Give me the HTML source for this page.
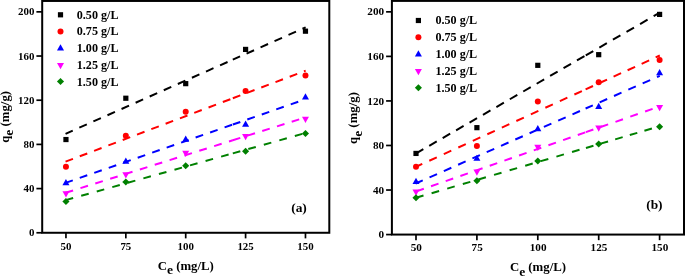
<!DOCTYPE html>
<html><head><meta charset="utf-8"><title>chart</title>
<style>
html,body{margin:0;padding:0;background:#fff;overflow:hidden}
svg{display:block;will-change:transform}
text{font-family:"Liberation Serif",serif;font-weight:bold;fill:#000}
.tk{}
.lg{font-size:12.1px}
.pl{font-size:13.4px}
.ax{font-size:12.8px}
.sub{font-size:13.5px}
</style></head><body>
<svg width="685" height="276" viewBox="0 0 685 276">
<rect width="685" height="276" fill="#fff"/>
<g>
<rect x="42.2" y="0.95" width="287.1" height="231.82000000000002" fill="none" stroke="#000" stroke-width="2.0"/>
<line x1="36.400000000000006" x2="42.2" y1="232.77" y2="232.77" stroke="#000" stroke-width="1.7"/>
<text x="34.400000000000006" y="236.37" text-anchor="end" class="tk" font-size="10.9">0</text>
<line x1="36.400000000000006" x2="42.2" y1="188.59" y2="188.59" stroke="#000" stroke-width="1.7"/>
<text x="34.400000000000006" y="192.19" text-anchor="end" class="tk" font-size="10.9">40</text>
<line x1="36.400000000000006" x2="42.2" y1="144.40" y2="144.40" stroke="#000" stroke-width="1.7"/>
<text x="34.400000000000006" y="148.00" text-anchor="end" class="tk" font-size="10.9">80</text>
<line x1="36.400000000000006" x2="42.2" y1="100.22" y2="100.22" stroke="#000" stroke-width="1.7"/>
<text x="34.400000000000006" y="103.82" text-anchor="end" class="tk" font-size="10.9">120</text>
<line x1="36.400000000000006" x2="42.2" y1="56.03" y2="56.03" stroke="#000" stroke-width="1.7"/>
<text x="34.400000000000006" y="59.63" text-anchor="end" class="tk" font-size="10.9">160</text>
<line x1="36.400000000000006" x2="42.2" y1="11.85" y2="11.85" stroke="#000" stroke-width="1.7"/>
<text x="34.400000000000006" y="15.45" text-anchor="end" class="tk" font-size="10.9">200</text>
<line x1="65.95" x2="65.95" y1="232.77" y2="238.37" stroke="#000" stroke-width="1.7"/>
<text x="65.95" y="249.67000000000002" text-anchor="middle" class="tk" font-size="10.9">50</text>
<line x1="125.83" x2="125.83" y1="232.77" y2="238.37" stroke="#000" stroke-width="1.7"/>
<text x="125.83" y="249.67000000000002" text-anchor="middle" class="tk" font-size="10.9">75</text>
<line x1="185.71" x2="185.71" y1="232.77" y2="238.37" stroke="#000" stroke-width="1.7"/>
<text x="185.71" y="249.67000000000002" text-anchor="middle" class="tk" font-size="10.9">100</text>
<line x1="245.59" x2="245.59" y1="232.77" y2="238.37" stroke="#000" stroke-width="1.7"/>
<text x="245.59" y="249.67000000000002" text-anchor="middle" class="tk" font-size="10.9">125</text>
<line x1="305.47" x2="305.47" y1="232.77" y2="238.37" stroke="#000" stroke-width="1.7"/>
<text x="305.47" y="249.67000000000002" text-anchor="middle" class="tk" font-size="10.9">150</text>
<path d="M65.55 133.81L72.74 130.62M79.32 127.70L86.82 124.38M93.39 121.46L100.89 118.14M107.47 115.22L114.97 111.90M121.54 108.98L129.04 105.66M135.62 102.74L143.12 99.41M149.69 96.50L157.19 93.17M163.77 90.26L171.27 86.93M177.84 84.02L185.34 80.69M191.91 77.78L199.41 74.45M205.99 71.54L213.49 68.21M220.06 65.30L227.56 61.97M232.80 59.65L240.07 56.42M246.56 53.55L254.06 50.22M260.54 47.35L268.04 44.02M274.52 41.15L282.02 37.82M288.50 34.95L296.00 31.62M302.48 28.75L305.67 27.34" stroke="#000" stroke-width="2.0" fill="none"/>
<path d="M65.55 161.67L72.96 158.87M79.77 156.28L87.27 153.44M94.08 150.86L101.58 148.02M108.39 145.43L115.89 142.59M122.70 140.01L130.20 137.17M137.01 134.59L144.51 131.74M151.31 129.16L158.81 126.32M165.62 123.74L173.12 120.90M179.93 118.32L187.43 115.47M194.24 112.89L201.74 110.05M208.55 107.47L216.05 104.62M222.85 102.05L230.35 99.20M232.81 98.27L240.31 95.43M247.04 92.88L254.54 90.03M261.26 87.48L268.76 84.64M275.48 82.09L282.98 79.25M289.71 76.70L297.21 73.86M303.93 71.31L305.67 70.65" stroke="#ff0000" stroke-width="2.0" fill="none"/>
<path d="M65.55 182.87L72.78 180.35M79.76 177.92L87.26 175.30M94.24 172.87L101.74 170.25M108.73 167.82L116.23 165.20M123.21 162.77L130.71 160.15M137.69 157.72L145.19 155.10M152.18 152.67L159.68 150.05M166.66 147.62L174.16 145.00M181.14 142.57L188.64 139.96M195.62 137.52L203.12 134.91M210.11 132.47L217.61 129.86M224.59 127.42L232.09 124.81M232.80 124.56L240.30 121.95M247.29 119.51L254.79 116.89M261.77 114.46L269.27 111.84M276.25 109.41L283.75 106.80M290.74 104.36L298.24 101.74" stroke="#0000ff" stroke-width="2.0" fill="none"/>
<path d="M65.59 192.79L73.09 190.43M80.45 188.12L87.95 185.76M95.30 183.46L102.80 181.10M110.16 178.79L117.66 176.43M125.01 174.12L132.51 171.77M139.87 169.46L147.37 167.10M154.72 164.79L162.22 162.44M169.58 160.13L177.08 157.77M184.43 155.46L191.93 153.11M199.28 150.80L206.78 148.44M214.14 146.13L221.64 143.78M229.00 141.47L232.75 140.29M232.80 140.27L240.29 137.92M247.52 135.65L255.02 133.29M262.25 131.02L269.75 128.67M276.98 126.40L284.48 124.04M291.70 121.77L299.20 119.42" stroke="#ff00ff" stroke-width="2.0" fill="none"/>
<path d="M65.65 200.16L73.15 198.06M81.20 195.80L88.70 193.71M96.75 191.45L104.25 189.35M112.29 187.10L119.79 185.00M127.84 182.75L135.34 180.65M143.39 178.40L150.89 176.30M158.93 174.05L166.43 171.95M174.48 169.69L181.98 167.59M190.03 165.34L197.53 163.24M205.57 160.99L213.07 158.89M221.12 156.64L228.62 154.54M232.80 153.37L240.30 151.27M248.31 149.03L255.81 146.93M263.81 144.69L271.31 142.59M279.32 140.34L286.82 138.25M294.83 136.00L302.33 133.90" stroke="#008000" stroke-width="2.0" fill="none"/>
<rect x="63.35" y="136.94" width="5.2" height="5.2" fill="#000"/>
<rect x="123.23" y="95.63" width="5.2" height="5.2" fill="#000"/>
<rect x="183.11" y="81.05" width="5.2" height="5.2" fill="#000"/>
<rect x="242.99" y="46.81" width="5.2" height="5.2" fill="#000"/>
<rect x="302.87" y="28.58" width="5.2" height="5.2" fill="#000"/>
<circle cx="65.95" cy="166.66" r="3.0" fill="#ff0000"/>
<circle cx="125.83" cy="135.72" r="3.0" fill="#ff0000"/>
<circle cx="185.71" cy="111.64" r="3.0" fill="#ff0000"/>
<circle cx="245.59" cy="90.94" r="3.0" fill="#ff0000"/>
<circle cx="305.47" cy="75.47" r="3.0" fill="#ff0000"/>
<path d="M65.95 179.08 L69.45 185.28 L62.45 185.28Z" fill="#0000ff"/>
<path d="M125.83 157.43 L129.33 163.63 L122.33 163.63Z" fill="#0000ff"/>
<path d="M185.71 135.58 L189.21 141.78 L182.21 141.78Z" fill="#0000ff"/>
<path d="M245.59 120.54 L249.09 126.74 L242.09 126.74Z" fill="#0000ff"/>
<path d="M305.47 93.36 L308.97 99.56 L301.97 99.56Z" fill="#0000ff"/>
<path d="M65.95 197.43 L69.45 191.23 L62.45 191.23Z" fill="#ff00ff"/>
<path d="M125.83 178.54 L129.33 172.34 L122.33 172.34Z" fill="#ff00ff"/>
<path d="M185.71 156.89 L189.21 150.69 L182.21 150.69Z" fill="#ff00ff"/>
<path d="M245.59 140.21 L249.09 134.01 L242.09 134.01Z" fill="#ff00ff"/>
<path d="M305.47 122.98 L308.97 116.78 L301.97 116.78Z" fill="#ff00ff"/>
<path d="M65.95 198.12 L69.50 201.62 L65.95 205.12 L62.40 201.62Z" fill="#008000"/>
<path d="M125.83 178.61 L129.38 182.11 L125.83 185.61 L122.28 182.11Z" fill="#008000"/>
<path d="M185.71 162.36 L189.26 165.86 L185.71 169.36 L182.16 165.86Z" fill="#008000"/>
<path d="M245.59 147.79 L249.14 151.29 L245.59 154.79 L242.04 151.29Z" fill="#008000"/>
<path d="M305.47 130.08 L309.02 133.58 L305.47 137.08 L301.92 133.58Z" fill="#008000"/>
<rect x="57.90" y="12.20" width="5.2" height="5.2" fill="#000"/>
<text x="76.8" y="18.80" class="lg">0.50 g/L</text>
<circle cx="60.50" cy="31.48" r="3.0" fill="#ff0000"/>
<text x="76.8" y="35.48" class="lg">0.75 g/L</text>
<path d="M60.50 44.36 L64.00 50.56 L57.00 50.56Z" fill="#0000ff"/>
<text x="76.8" y="52.16" class="lg">1.00 g/L</text>
<path d="M60.50 69.14 L64.00 62.94 L57.00 62.94Z" fill="#ff00ff"/>
<text x="76.8" y="68.84" class="lg">1.25 g/L</text>
<path d="M60.50 78.02 L64.05 81.52 L60.50 85.02 L56.95 81.52Z" fill="#008000"/>
<text x="76.8" y="85.52" class="lg">1.50 g/L</text>
<text x="291.2" y="212.25" class="pl">(a)</text>
<text x="185.75" y="269.9" text-anchor="middle" class="ax">C<tspan dy="4.3" class="sub">e</tspan><tspan dy="-4.3"> (mg/L)</tspan></text>
<text transform="translate(8.9 116.86) rotate(-90)" text-anchor="middle" class="ax">q<tspan dy="4.3" class="sub">e</tspan><tspan dy="-4.3"> (mg/g)</tspan></text>
</g>
<g>
<rect x="391.9" y="0.9" width="292.1" height="233.67" fill="none" stroke="#000" stroke-width="2.0"/>
<line x1="386.09999999999997" x2="391.9" y1="234.57" y2="234.57" stroke="#000" stroke-width="1.7"/>
<text x="384.09999999999997" y="238.17" text-anchor="end" class="tk" font-size="11.2">0</text>
<line x1="386.09999999999997" x2="391.9" y1="190.03" y2="190.03" stroke="#000" stroke-width="1.7"/>
<text x="384.09999999999997" y="193.63" text-anchor="end" class="tk" font-size="11.2">40</text>
<line x1="386.09999999999997" x2="391.9" y1="145.48" y2="145.48" stroke="#000" stroke-width="1.7"/>
<text x="384.09999999999997" y="149.08" text-anchor="end" class="tk" font-size="11.2">80</text>
<line x1="386.09999999999997" x2="391.9" y1="100.94" y2="100.94" stroke="#000" stroke-width="1.7"/>
<text x="384.09999999999997" y="104.54" text-anchor="end" class="tk" font-size="11.2">120</text>
<line x1="386.09999999999997" x2="391.9" y1="56.39" y2="56.39" stroke="#000" stroke-width="1.7"/>
<text x="384.09999999999997" y="59.99" text-anchor="end" class="tk" font-size="11.2">160</text>
<line x1="386.09999999999997" x2="391.9" y1="11.85" y2="11.85" stroke="#000" stroke-width="1.7"/>
<text x="384.09999999999997" y="15.45" text-anchor="end" class="tk" font-size="11.2">200</text>
<line x1="416.00" x2="416.00" y1="234.57" y2="240.17" stroke="#000" stroke-width="1.7"/>
<text x="416.30" y="250.97" text-anchor="middle" class="tk" font-size="11.2">50</text>
<line x1="476.90" x2="476.90" y1="234.57" y2="240.17" stroke="#000" stroke-width="1.7"/>
<text x="477.20" y="250.97" text-anchor="middle" class="tk" font-size="11.2">75</text>
<line x1="537.80" x2="537.80" y1="234.57" y2="240.17" stroke="#000" stroke-width="1.7"/>
<text x="538.10" y="250.97" text-anchor="middle" class="tk" font-size="11.2">100</text>
<line x1="598.70" x2="598.70" y1="234.57" y2="240.17" stroke="#000" stroke-width="1.7"/>
<text x="599.00" y="250.97" text-anchor="middle" class="tk" font-size="11.2">125</text>
<line x1="659.60" x2="659.60" y1="234.57" y2="240.17" stroke="#000" stroke-width="1.7"/>
<text x="659.90" y="250.97" text-anchor="middle" class="tk" font-size="11.2">150</text>
<path d="M415.82 153.55L423.32 149.22M429.24 145.80L436.74 141.46M442.67 138.04L450.17 133.71M456.10 130.28L463.60 125.95M469.53 122.53L477.03 118.19M482.96 114.77L490.46 110.44M496.39 107.01L503.89 102.68M509.82 99.25L517.32 94.92M523.24 91.50L530.74 87.17M536.67 83.75L544.17 79.41M550.10 75.99L557.60 71.66M563.53 68.23L571.03 63.90M576.96 60.47L584.46 56.14M585.77 55.39L593.27 51.05M599.35 47.54L606.85 43.21M612.92 39.70L620.42 35.37M626.50 31.86L634.00 27.53M640.07 24.02L647.57 19.69M653.65 16.18L659.80 12.63" stroke="#000" stroke-width="2.0" fill="none"/>
<path d="M415.60 166.99L422.26 163.95M429.28 160.75L436.78 157.32M443.79 154.12L451.29 150.70M458.30 147.50L465.80 144.08M472.81 140.88L480.31 137.45M487.32 134.25L494.82 130.83M501.83 127.63L509.33 124.21M516.34 121.01L523.84 117.58M530.85 114.38L538.35 110.96M545.36 107.76L552.86 104.34M559.87 101.14L567.37 97.71M574.38 94.51L581.88 91.09M585.60 89.39L593.00 86.01M599.54 83.03L607.04 79.61M613.57 76.63L621.07 73.20M627.60 70.22L635.10 66.80M641.64 63.81L649.14 60.39M655.67 57.41L659.80 55.52" stroke="#ff0000" stroke-width="2.0" fill="none"/>
<path d="M415.60 183.52L422.75 180.37M429.54 177.37L437.04 174.06M443.83 171.07L451.33 167.76M458.13 164.76L465.63 161.45M472.42 158.46L479.92 155.15M486.72 152.15L494.22 148.84M501.01 145.84L508.51 142.53M515.31 139.53L522.81 136.23M529.60 133.23L537.10 129.92M543.89 126.93L551.39 123.62M558.19 120.62L565.69 117.31M572.48 114.31L579.98 111.01M585.60 108.53L592.83 105.34M599.67 102.32L607.17 99.01M614.00 96.00L621.50 92.69M628.33 89.68L635.83 86.37M642.67 83.35L650.17 80.04M657.00 77.03L659.80 75.79" stroke="#0000ff" stroke-width="2.0" fill="none"/>
<path d="M416.34 191.41L423.84 188.79M431.01 186.28L438.51 183.66M445.69 181.15L453.19 178.53M460.37 176.02L467.87 173.40M475.05 170.89L482.55 168.27M489.73 165.76L497.23 163.14M504.40 160.63L511.90 158.01M519.08 155.50L526.58 152.88M533.76 150.37L541.26 147.75M548.44 145.24L555.94 142.62M563.11 140.12L570.61 137.50M577.79 134.99L585.29 132.36M585.84 132.17L593.34 129.55M600.65 127.00L608.15 124.38M615.47 121.82L622.97 119.20M630.28 116.64L637.78 114.02M645.10 111.46L652.60 108.84" stroke="#ff00ff" stroke-width="2.0" fill="none"/>
<path d="M416.00 197.77L423.50 195.57M431.60 193.19L439.10 190.99M447.21 188.61L454.71 186.41M462.81 184.04L470.31 181.84M478.41 179.46L485.91 177.26M494.01 174.89L501.51 172.69M509.61 170.31L517.11 168.11M525.21 165.74L532.71 163.54M540.81 161.16L548.31 158.96M556.41 156.59L563.91 154.39M572.01 152.01L579.51 149.82M585.95 147.93L593.45 145.73M600.56 143.64L608.06 141.44M615.18 139.35L622.68 137.16M629.79 135.07L637.29 132.87M644.41 130.78L651.91 128.58M659.03 126.50L659.80 126.27" stroke="#008000" stroke-width="2.0" fill="none"/>
<rect x="413.40" y="150.83" width="5.2" height="5.2" fill="#000"/>
<rect x="474.30" y="125.06" width="5.2" height="5.2" fill="#000"/>
<rect x="535.20" y="62.73" width="5.2" height="5.2" fill="#000"/>
<rect x="596.10" y="52.07" width="5.2" height="5.2" fill="#000"/>
<rect x="657.00" y="11.81" width="5.2" height="5.2" fill="#000"/>
<circle cx="416.00" cy="166.64" r="3.0" fill="#ff0000"/>
<circle cx="476.90" cy="146.09" r="3.0" fill="#ff0000"/>
<circle cx="537.80" cy="101.57" r="3.0" fill="#ff0000"/>
<circle cx="598.70" cy="82.13" r="3.0" fill="#ff0000"/>
<circle cx="659.60" cy="60.00" r="3.0" fill="#ff0000"/>
<path d="M416.00 177.68 L419.50 183.88 L412.50 183.88Z" fill="#0000ff"/>
<path d="M476.90 154.63 L480.40 160.83 L473.40 160.83Z" fill="#0000ff"/>
<path d="M537.80 124.93 L541.30 131.13 L534.30 131.13Z" fill="#0000ff"/>
<path d="M598.70 102.76 L602.20 108.96 L595.20 108.96Z" fill="#0000ff"/>
<path d="M659.60 68.95 L663.10 75.15 L656.10 75.15Z" fill="#0000ff"/>
<path d="M416.00 195.80 L419.50 189.60 L412.50 189.60Z" fill="#ff00ff"/>
<path d="M476.90 175.76 L480.40 169.56 L473.40 169.56Z" fill="#ff00ff"/>
<path d="M537.80 150.92 L541.30 144.72 L534.30 144.72Z" fill="#ff00ff"/>
<path d="M598.70 131.70 L602.20 125.50 L595.20 125.50Z" fill="#ff00ff"/>
<path d="M659.60 111.14 L663.10 104.94 L656.10 104.94Z" fill="#ff00ff"/>
<path d="M416.00 194.32 L419.55 197.82 L416.00 201.32 L412.45 197.82Z" fill="#008000"/>
<path d="M476.90 177.33 L480.45 180.83 L476.90 184.33 L473.35 180.83Z" fill="#008000"/>
<path d="M537.80 157.59 L541.35 161.09 L537.80 164.59 L534.25 161.09Z" fill="#008000"/>
<path d="M598.70 140.59 L602.25 144.09 L598.70 147.59 L595.15 144.09Z" fill="#008000"/>
<path d="M659.60 123.17 L663.15 126.67 L659.60 130.17 L656.05 126.67Z" fill="#008000"/>
<rect x="415.80" y="17.90" width="5.2" height="5.2" fill="#000"/>
<text x="435.5" y="24.30" class="lg">0.50 g/L</text>
<circle cx="418.40" cy="37.32" r="3.0" fill="#ff0000"/>
<text x="435.5" y="41.12" class="lg">0.75 g/L</text>
<path d="M418.40 50.34 L421.90 56.54 L414.90 56.54Z" fill="#0000ff"/>
<text x="435.5" y="57.94" class="lg">1.00 g/L</text>
<path d="M418.40 75.26 L421.90 69.06 L414.90 69.06Z" fill="#ff00ff"/>
<text x="435.5" y="74.76" class="lg">1.25 g/L</text>
<path d="M418.40 84.28 L421.95 87.78 L418.40 91.28 L414.85 87.78Z" fill="#008000"/>
<text x="435.5" y="91.58" class="lg">1.50 g/L</text>
<text x="646.2" y="209.4" class="pl">(b)</text>
<text x="537.95" y="271.4" text-anchor="middle" class="ax">C<tspan dy="4.3" class="sub">e</tspan><tspan dy="-4.3"> (mg/L)</tspan></text>
<text transform="translate(357.4 118.035) rotate(-90)" text-anchor="middle" class="ax">q<tspan dy="4.3" class="sub">e</tspan><tspan dy="-4.3"> (mg/g)</tspan></text>
</g>
</svg>
</body></html>
